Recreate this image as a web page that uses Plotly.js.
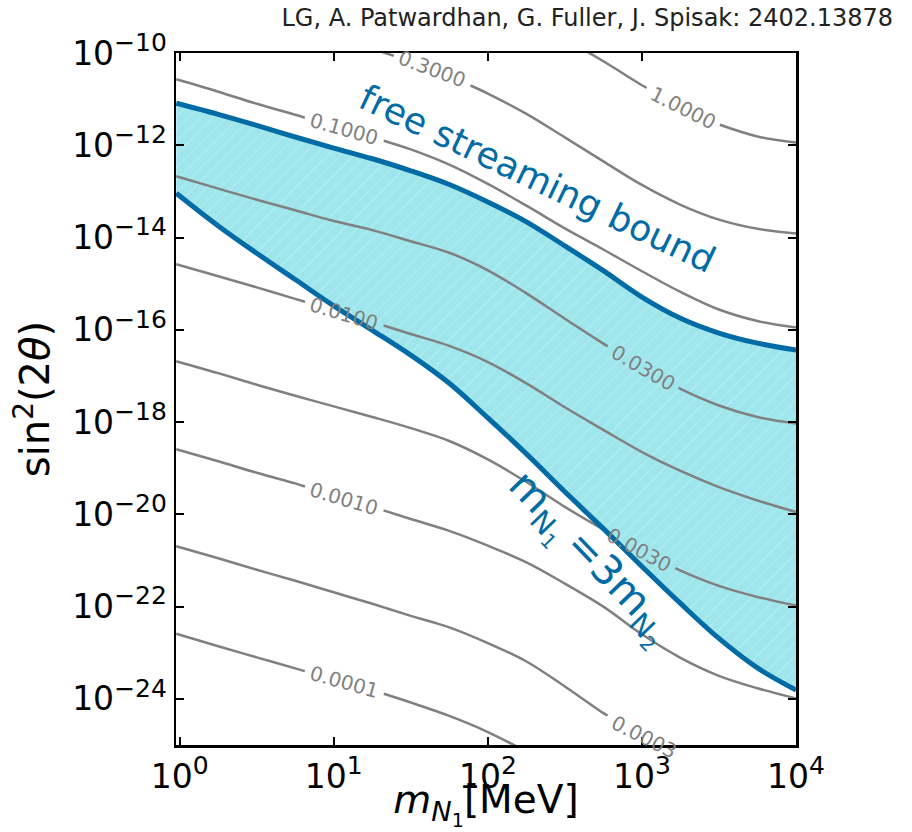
<!DOCTYPE html>
<html><head><meta charset="utf-8">
<script src="https://cdn.plot.ly/plotly-3.0.1.min.js"></script>
<style>html,body{margin:0;padding:0;background:#fff}#chart{width:912px;height:832px}</style>
</head><body><div id="chart"></div>
<script>
// ---------------- data ----------------
const massGrid = [0.95, 1.78, 3.16, 5.62, 10, 17.8, 31.6, 56.2, 100, 178, 316, 562, 1000, 1780, 3160, 5620, 10000];

const freeStreamingBound = [8.13e-12, 4.68e-12, 2.69e-12, 1.51e-12, 8.7e-13, 5.1e-13, 2.8e-13, 1.41e-13, 5.89e-14, 2.19e-14, 6.61e-15, 1.91e-15, 5.13e-16, 1.78e-16, 8.51e-17, 5.13e-17, 3.63e-17];
const massRatioBound = [9.12e-14, 1.78e-14, 4.57e-15, 1.23e-15, 3.31e-16, 9.77e-17, 2.82e-17, 6.92e-18, 1.23e-18, 2.04e-19, 3.09e-20, 4.9e-21, 7.41e-22, 1.17e-22, 2.04e-23, 4.68e-24, 1.55e-24];

const contourLabels = ["1.0000", "0.3000", "0.1000", "0.0300", "0.0100", "0.0030", "0.0010", "0.0003", "0.0001"];
const contour1p0000 = [null, null, null, null, null, null, null, 3.72e-9, 1.55e-9, 6.03e-10, 2.04e-10, 6.61e-11, 2.0e-11, 6.76e-12, 2.82e-12, 1.55e-12, 1.15e-12];
const contour0p3000 = [1.95e-9, 1.15e-9, 6.76e-10, 3.98e-10, 2.24e-10, 1.23e-10, 6.61e-11, 3.24e-11, 1.32e-11, 4.79e-12, 1.48e-12, 4.47e-13, 1.38e-13, 5.13e-14, 2.45e-14, 1.55e-14, 1.23e-14];
const contour0p1000 = [2.69e-11, 1.45e-11, 7.94e-12, 4.57e-12, 2.57e-12, 1.51e-12, 8.13e-13, 3.8e-13, 1.45e-13, 4.9e-14, 1.58e-14, 5.5e-15, 1.86e-15, 6.61e-16, 2.75e-16, 1.55e-16, 1.12e-16];
const contour0p0300 = [2.14e-13, 1.15e-13, 6.61e-14, 3.89e-14, 2.29e-14, 1.45e-14, 8.32e-15, 4.68e-15, 1.95e-15, 6.17e-16, 1.74e-16, 5.01e-17, 1.51e-17, 5.25e-18, 2.29e-18, 1.29e-18, 9.33e-19];
const contour0p0100 = [2.63e-15, 1.45e-15, 8.32e-16, 4.68e-16, 2.63e-16, 1.48e-16, 8.13e-17, 4.47e-17, 2.0e-17, 6.92e-18, 2.09e-18, 6.76e-19, 2.24e-19, 8.71e-20, 3.89e-20, 2.0e-20, 1.12e-20];
const contour0p0030 = [2.09e-17, 1.15e-17, 6.46e-18, 3.72e-18, 2.19e-18, 1.29e-18, 7.41e-19, 3.89e-19, 1.55e-19, 5.01e-20, 1.45e-20, 4.68e-21, 1.55e-21, 6.03e-22, 2.82e-22, 1.62e-22, 1.05e-22];
const contour0p0010 = [2.57e-19, 1.41e-19, 7.94e-20, 4.68e-20, 2.57e-20, 1.45e-20, 7.94e-21, 4.37e-21, 2.09e-21, 9.12e-22, 3.16e-22, 1.0e-22, 2.51e-23, 7.76e-24, 3.16e-24, 1.7e-24, 1.02e-24];
const contour0p0003 = [2.04e-21, 1.12e-21, 6.31e-22, 3.63e-22, 2.04e-22, 1.15e-22, 6.31e-23, 3.55e-23, 1.62e-23, 6.46e-24, 1.86e-24, 4.9e-25, 1.55e-25, 6.8e-26, 3.2e-26, 1.74e-26, 1.05e-26];
const contour0p0001 = [2.57e-23, 1.38e-23, 7.94e-24, 4.57e-24, 2.63e-24, 1.55e-24, 8.32e-25, 4.27e-25, 1.91e-25, 7.08e-26, 2.24e-26, 6.46e-27, 2.34e-27, null, null, null, null];
const contourLabelMass = [1854, 43.5, 11.7, 1019, 11.7, 960, 11.7, 1035, 11.7];

const xTickVals = [1, 10, 100, 1000, 10000];
const xTickText = ["10<sup>0</sup>", "10<sup>1</sup>", "10<sup>2</sup>", "10<sup>3</sup>", "10<sup>4</sup>"];
const yTickVals = [1e-10, 1e-12, 1e-14, 1e-16, 1e-18, 1e-20, 1e-22, 1e-24];
const yTickText = ["10<sup>\u221210</sup>", "10<sup>\u221212</sup>", "10<sup>\u221214</sup>", "10<sup>\u221216</sup>", "10<sup>\u221218</sup>", "10<sup>\u221220</sup>", "10<sup>\u221222</sup>", "10<sup>\u221224</sup>"];

// ---------------- styling / layout ----------------
const contourSeries = [contour1p0000, contour0p3000, contour0p1000, contour0p0300, contour0p0100, contour0p0030, contour0p0010, contour0p0003, contour0p0001];
const W = 912, H = 832;
const M = {l: 176, r: 116, t: 53, b: 87};
const xRange = [-0.024, 4];
const yRange = [-25, -10];
const pxX = (W - M.l - M.r) / (xRange[1] - xRange[0]);
const pxY = (H - M.t - M.b) / (yRange[1] - yRange[0]);
const BLUE = '#006BA4';
const CYAN = '#9ee6ec';
const GRAY = '#808080';
const FONT = 'DejaVu Sans, sans-serif';
const LABEL_SIZE = 20;

const LX = massGrid.map(v => Math.log10(v));
function interp(lys, lx) {
  for (let i = 0; i < LX.length - 1; i++) {
    if (lys[i] == null || lys[i + 1] == null) continue;
    if (lx >= LX[i] && lx <= LX[i + 1]) {
      const f = (lx - LX[i]) / (LX[i + 1] - LX[i]);
      return lys[i] + f * (lys[i + 1] - lys[i]);
    }
  }
  return null;
}
const supBig = s => s.replace(/<sup>(.*?)<\/sup>/, '<sup><span style="font-size:25px">$1</span></sup>');

const traces = [];
// filled band between the two bounds
traces.push({x: massGrid, y: massRatioBound, mode: 'lines', line: {width: 0, shape: 'spline', smoothing: 1}, hoverinfo: 'skip', showlegend: false});
traces.push({x: massGrid, y: freeStreamingBound, mode: 'lines', fill: 'tonexty', fillcolor: CYAN,
  fillpattern: {shape: '/', bgcolor: CYAN, fgcolor: '#ffffff', fgopacity: 0.22, size: 9, solidity: 0.12},
  line: {width: 0, shape: 'spline', smoothing: 1}, hoverinfo: 'skip', showlegend: false});

const annotations = [];
contourSeries.forEach((ser, k) => {
  const lys = ser.map(v => v == null ? null : Math.log10(v));
  const lx0 = Math.log10(contourLabelMass[k]);
  const ly0 = interp(lys, lx0);
  const d = 0.12;
  const slope = (interp(lys, lx0 + d) - interp(lys, lx0 - d)) / (2 * d);
  const ang = Math.atan2(-slope * pxY, pxX);
  const halfGap = (LABEL_SIZE * 3.5 + 12) / 2;
  const hw = halfGap * Math.cos(ang) / pxX;
  const a = lx0 - hw, b = lx0 + hw;
  const xs = [], ys = [];
  for (let i = 0; i < LX.length; i++) if (LX[i] < a) { xs.push(massGrid[i]); ys.push(ser[i]); }
  const ya = interp(lys, a);
  if (ya != null) { xs.push(Math.pow(10, a)); ys.push(Math.pow(10, ya)); }
  xs.push(Math.pow(10, lx0)); ys.push(null);
  const yb = interp(lys, b);
  if (yb != null) { xs.push(Math.pow(10, b)); ys.push(Math.pow(10, yb)); }
  for (let i = 0; i < LX.length; i++) if (LX[i] > b) { xs.push(massGrid[i]); ys.push(ser[i]); }
  traces.push({x: xs, y: ys, mode: 'lines', connectgaps: false, line: {color: GRAY, width: 2.5, shape: 'spline', smoothing: 1}, hoverinfo: 'skip', showlegend: false});
  annotations.push({x: lx0, y: ly0, xref: 'x', yref: 'y', text: contourLabels[k], showarrow: false,
    textangle: ang * 180 / Math.PI, xanchor: 'center', yanchor: 'middle',
    font: {family: FONT, size: LABEL_SIZE, color: GRAY}});
});

// the two bounds drawn on top
traces.push({x: massGrid, y: freeStreamingBound, mode: 'lines', line: {color: BLUE, width: 5, shape: 'spline', smoothing: 1}, hoverinfo: 'skip', showlegend: false});
traces.push({x: massGrid, y: massRatioBound, mode: 'lines', line: {color: BLUE, width: 5, shape: 'spline', smoothing: 1}, hoverinfo: 'skip', showlegend: false});

annotations.push({x: 2.32, y: -12.72, xref: 'x', yref: 'y', text: 'free streaming bound', showarrow: false,
  textangle: 25.5, xanchor: 'center', yanchor: 'middle', font: {family: FONT, size: 36, color: BLUE}});
annotations.push({x: 2.655, y: -20.97, xref: 'x', yref: 'y', text: 'm<sub>N<sub>1</sub></sub>\u2009=3m<sub>N<sub>2</sub></sub>', showarrow: false,
  textangle: 46, xanchor: 'center', yanchor: 'middle', font: {family: FONT, size: 41, color: BLUE}});

const axisCommon = {
  type: 'log', showgrid: false, zeroline: false, showline: true, linecolor: '#000', linewidth: 2.5,
  mirror: 'ticks', ticks: 'inside', ticklen: 8, tickwidth: 2, tickcolor: '#000',
  tickmode: 'array', tickfont: {family: FONT, size: 33, color: '#000'}, automargin: false
};

const layout = {
  width: W, height: H, margin: M, paper_bgcolor: '#fff', plot_bgcolor: '#fff', showlegend: false,
  title: {text: 'LG, A. Patwardhan, G. Fuller, J. Spisak: 2402.13878', x: 893 / W, xref: 'container', xanchor: 'right',
    y: 1 - 18 / H, yref: 'container', yanchor: 'middle', font: {family: 'DejaVu Sans, sans-serif', size: 24, color: '#222'}},
  xaxis: Object.assign({}, axisCommon, {range: xRange, tickvals: xTickVals, ticktext: xTickText.map(supBig), ticklabelstandoff: 1,
    title: {text: '<i>m</i><sub><i>N</i><sub>1</sub></sub>[MeV]', font: {family: FONT, size: 39, color: '#000'}, standoff: 5}}),
  yaxis: Object.assign({}, axisCommon, {range: yRange, tickvals: yTickVals, ticktext: yTickText.map(supBig),
    title: {text: 'sin<sup>2</sup>(2<i>θ</i>)', font: {family: FONT, size: 40, color: '#000'}, standoff: 10}}),
  annotations: annotations
};

Plotly.newPlot('chart', traces, layout, {displayModeBar: false, staticPlot: true});
</script></body></html>
